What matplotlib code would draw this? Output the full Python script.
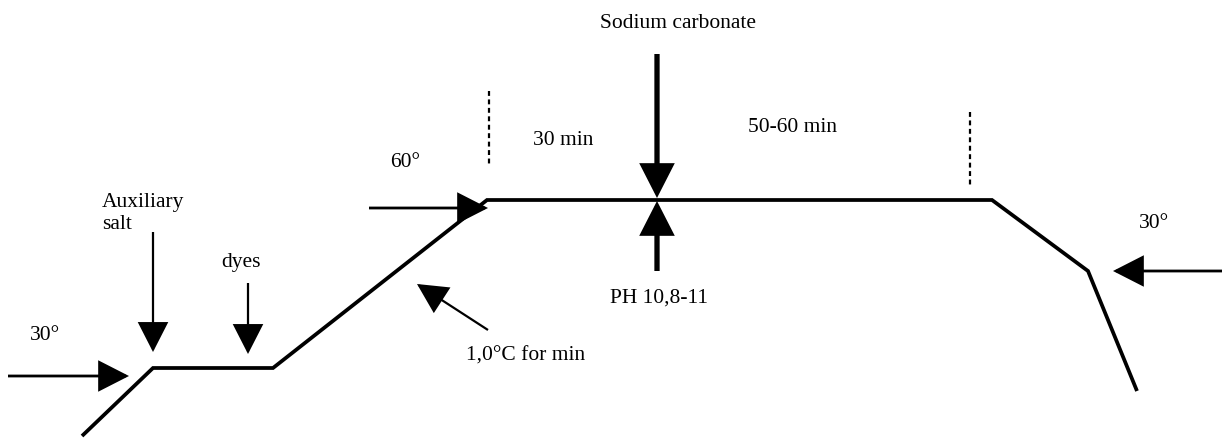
import matplotlib
matplotlib.use("Agg")
import matplotlib.pyplot as plt
from matplotlib.patches import FancyArrowPatch

# Process temperature profile (diagram coordinates, pixel space)
profile_x = [82, 153, 273, 487, 992, 1088, 1137]
profile_y = [437, 369, 369, 201, 201, 272, 392]

# Arrows: tail x, tail y, tip x, tip y, line width (pt)
arrow_tail_x = [8, 153, 248, 369, 657, 657, 1222, 488]
arrow_tail_y = [377, 233, 284, 209, 55, 272, 272, 331]
arrow_tip_x = [129, 153, 248, 488, 657, 657, 1113, 417]
arrow_tip_y = [377, 353, 355, 209, 199, 202, 272, 285]
arrow_lw = [2.0, 1.6, 1.6, 2.0, 3.8, 3.8, 2.0, 1.6]

# Dotted separators
dotted_x = [489, 970]
dotted_top = [92, 113]
dotted_bottom = [165, 186]

# Labels
label_text = ["30°", "Auxiliary", "salt", "dyes", "60°", "30 min",
              "Sodium carbonate", "50-60 min", "PH 10,8-11", "30°",
              "1,0°C for min"]
label_x = [45, 102, 102, 241, 405, 563, 678, 793, 659, 1154, 526]
label_y = [336, 203, 225, 263, 163, 141, 23, 128, 298, 224, 356]
label_ha = ["center", "left", "left", "center", "center", "center",
            "center", "center", "center", "center", "center"]

fig = plt.figure(figsize=(12.22, 4.39), dpi=100)
ax = fig.add_axes([0, 0, 1, 1])
ax.set_xlim(0, 1222)
ax.set_ylim(439, 0)
ax.axis("off")

ax.plot(profile_x, profile_y, color="black", lw=2.7, solid_joinstyle="miter",
        solid_capstyle="butt")

for tx, ty, hx, hy, lw in zip(arrow_tail_x, arrow_tail_y, arrow_tip_x,
                              arrow_tip_y, arrow_lw):
    arr = FancyArrowPatch((tx, ty), (hx, hy),
                          arrowstyle="-|>,head_length=19,head_width=9.7",
                          mutation_scale=1, lw=lw, color="black",
                          shrinkA=0, shrinkB=0, joinstyle="miter",
                          capstyle="butt")
    ax.add_patch(arr)

for x, t, b in zip(dotted_x, dotted_top, dotted_bottom):
    ax.plot([x, x], [t, b], color="black", lw=1.6, linestyle=(0, (2.2, 1.6)))

for t, x, y, ha in zip(label_text, label_x, label_y, label_ha):
    ax.text(x, y, t, ha=ha, va="center", fontsize=15.5,
            family="Liberation Serif", color="black")

fig.savefig("out.png", dpi=100)
